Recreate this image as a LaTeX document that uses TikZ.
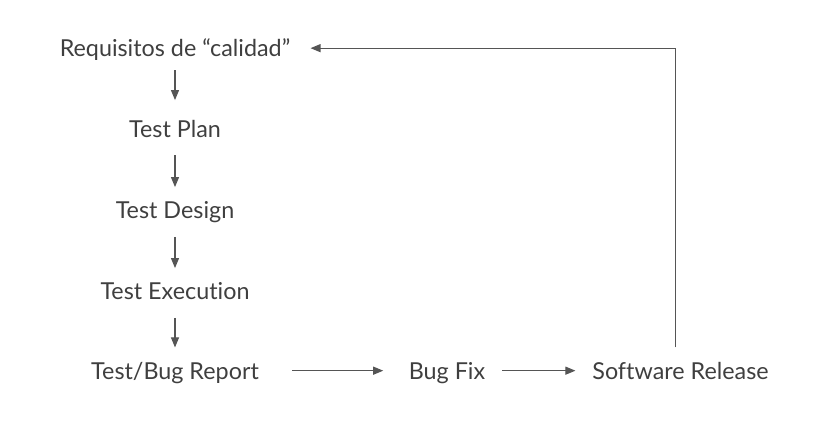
\documentclass[tikz,border=0pt]{standalone}
\usepackage{fontspec}
\setmainfont[Ligatures=NoCommon]{Lato}
\usepackage{tikz}
\usetikzlibrary{positioning, arrows.meta, calc}
\definecolor{txtgray}{HTML}{3F3F3F}
\definecolor{linegray}{HTML}{555555}

\begin{document}
\begin{tikzpicture}[x=0.75pt, y=-0.75pt, >={Triangle[length=7.5pt, width=6pt]},
    stage/.style={inner sep=0pt, text height=12.5pt, text depth=0pt, anchor=base,
        font=\fontsize{17.5pt}{20pt}\selectfont, text=txtgray},
    flow/.style={->, draw=linegray, line width=0.8pt}]
    \useasboundingbox (0,0) rectangle (828,425);
    % Left column
    \node[stage] (req) at (175,56.5) {Requisitos de “calidad”};
    \node[stage] (plan) at (175,137) {Test Plan};
    \node[stage] (design) at (175,218) {Test Design};
    \node[stage] (exec) at (175,299) {Test Execution};
    \node[stage] (report) at (175,379) {Test/Bug Report};
    % Bottom row
    \node[stage] (fix) at (447,379) {Bug Fix};
    \node[stage] (release) at (680.5,379) {Software Release};
    % Vertical arrows
    \draw[flow, shorten <=10pt, shorten >=15pt] (req) -- (plan);
    \draw[flow, shorten <=13.5pt, shorten >=10.5pt] (plan) -- (design);
    \draw[flow, shorten <=14pt, shorten >=10.5pt] (design) -- (exec);
    \draw[flow, shorten <=14pt, shorten >=11pt] (exec) -- (report);
    % Horizontal arrows
    \draw[flow, shorten <=25pt, shorten >=19pt] (report.east) -- (fix.west);
    \draw[flow, shorten <=12.5pt, shorten >=12.5pt] (fix.east) -- (release.west);
    % Feedback loop
    \draw[flow, shorten <=11pt, shorten >=15pt] ([xshift=-3.5pt]release.north) |- (req.east);
\end{tikzpicture}
\end{document}
